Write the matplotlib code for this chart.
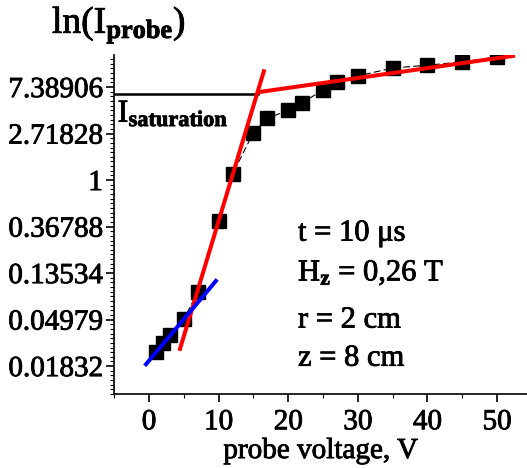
import numpy as np
import matplotlib.pyplot as plt
import matplotlib.patheffects as pe

plt.rcParams['font.family'] = ['Liberation Serif', 'DejaVu Serif']
plt.rcParams['mathtext.fontset'] = 'custom'
plt.rcParams['mathtext.rm'] = 'Liberation Serif'
plt.rcParams['mathtext.it'] = 'Liberation Serif:italic'
plt.rcParams['mathtext.bf'] = 'Liberation Serif:bold'

# measured points: probe voltage (V) and ln(I_probe)
voltage = [1, 2, 3, 5, 7, 10, 12, 15, 17, 20, 22, 25, 27, 30, 35, 40, 45, 50]
ln_current = [-3.70, -3.50, -3.33, -2.99, -2.41, -0.89, 0.13, 1.02, 1.33,
              1.50, 1.66, 1.94, 2.11, 2.24, 2.41, 2.47, 2.54, 2.65]

# fitted straight lines (end points in data units)
steep_fit_v = [4.45, 16.5]
steep_fit_ln = [-3.63, 2.34]
sat_fit_v = [15.66, 52.3]
sat_fit_ln = [1.89, 2.67]
low_fit_v = [-0.43, 9.6]
low_fit_ln = [-3.96, -2.17]
sat_level_v = [-5.03, 15.7]
sat_level_ln = [1.86, 1.86]

ytick_pos = [-4, -3, -2, -1, 0, 1, 2]
ytick_labels = ['0.01832', '0.04979', '0.13534', '0.36788', '1', '2.71828', '7.38906']
xtick_pos = [0, 10, 20, 30, 40, 50]

heavy = [pe.withStroke(linewidth=0.6, foreground='black')]

fig = plt.figure(figsize=(5.27, 4.68), dpi=100)
ax = fig.add_axes([0.2163, 0.1581, 0.7837, 0.7244])

ax.plot(voltage, ln_current, color='black', linewidth=0.8, linestyle=(0, (6, 3)), zorder=2)
ax.plot(voltage, ln_current, linestyle='none', marker='s', markersize=10,
        color='black', zorder=3)
ax.plot(sat_level_v, sat_level_ln, color='black', linewidth=1.8, zorder=4)
ax.plot(steep_fit_v, steep_fit_ln, color='#ff0000', linewidth=2.9, zorder=5)
ax.plot(sat_fit_v, sat_fit_ln, color='#ff0000', linewidth=2.9, zorder=5)
ax.plot(low_fit_v, low_fit_ln, color='#0000ff', linewidth=2.9, zorder=5)

ax.set_xlim(-5.03, 54.3)
ax.set_ylim(-4.6, 2.69)

ax.spines['top'].set_visible(False)
ax.spines['right'].set_visible(False)
ax.spines['left'].set_linewidth(1.2)
ax.spines['bottom'].set_linewidth(1.2)

ax.set_xticks(xtick_pos)
ax.set_xticks(np.arange(-5, 55, 5), minor=True)
ax.set_yticks(ytick_pos)
ax.set_yticklabels(ytick_labels)
ax.set_yticks(np.arange(-4.6, 2.7, 0.1), minor=True)
ax.tick_params(axis='both', which='major', direction='out', length=6, width=1.2,
               labelsize=21)
ax.tick_params(axis='y', which='major', pad=2)
ax.tick_params(axis='x', which='major', pad=5)
ax.tick_params(axis='both', which='minor', direction='out', length=3, width=0.8)
for lab in ax.get_xticklabels() + ax.get_yticklabels():
    lab.set_path_effects(heavy)

ax.set_xlabel('probe voltage, V', fontsize=21, labelpad=2, path_effects=heavy)

fig.text(52 / 527, 1 - 25 / 468, r'$\mathrm{ln(I}_{\mathbf{probe}}\mathrm{)}$', fontsize=27,
         va='center', ha='left', path_effects=heavy)
ax.text(-4.5, 1.42, r'$\mathrm{I}_{\mathbf{saturation}}$', fontsize=23, va='center',
        ha='left', path_effects=heavy)

ax.text(21.4, -1.14, r't = 10 μs', fontsize=22, va='center', ha='left', path_effects=heavy)
ax.text(21.4, -2.0, r'$\mathrm{H}_{\mathbf{z}}$ = 0,26 T', fontsize=22, va='center',
        ha='left', path_effects=heavy)
ax.text(21.4, -3.01, 'r = 2 cm', fontsize=22, va='center', ha='left', path_effects=heavy)
ax.text(21.4, -3.83, 'z = 8 cm', fontsize=22, va='center', ha='left', path_effects=heavy)

plt.savefig('out.png', dpi=100)
